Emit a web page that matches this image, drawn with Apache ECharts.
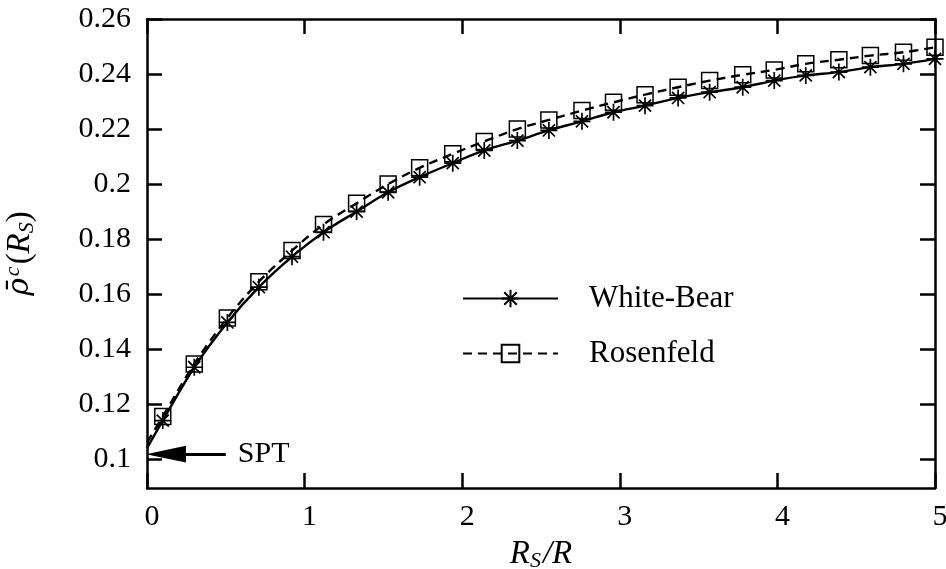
<!DOCTYPE html>
<html>
<head>
<meta charset="utf-8">
<script src="https://cdn.jsdelivr.net/npm/echarts@6/dist/echarts.min.js"></script>
<style>html,body{margin:0;padding:0;background:#fff;}#c{width:946px;height:569px;}</style>
</head>
<body>
<div id="c"></div>
<script>
// ---- data ----
const xValues = [0, 0.10, 0.30, 0.51, 0.71, 0.92, 1.12, 1.33, 1.53, 1.73, 1.94, 2.14, 2.35, 2.55, 2.76, 2.96, 3.16, 3.37, 3.57, 3.78, 3.98, 4.18, 4.39, 4.59, 4.80, 5.00];
const whiteBear = [0.104, 0.114, 0.1334, 0.1497, 0.1625, 0.1736, 0.1825, 0.1900, 0.1970, 0.2025, 0.2076, 0.2122, 0.2158, 0.2195, 0.2228, 0.2261, 0.2285, 0.2313, 0.2334, 0.2352, 0.2376, 0.2395, 0.2407, 0.2425, 0.2437, 0.2455];
const rosenfeld = [0.106, 0.1155, 0.1346, 0.1513, 0.1645, 0.1758, 0.1853, 0.1930, 0.2000, 0.2059, 0.2110, 0.2155, 0.2200, 0.2233, 0.2267, 0.2297, 0.2325, 0.2352, 0.2376, 0.2397, 0.2415, 0.2437, 0.2452, 0.2467, 0.2479, 0.2497];
const yTicks = [0.1, 0.12, 0.14, 0.16, 0.18, 0.2, 0.22, 0.24, 0.26];
const xTicks = [0, 1, 2, 3, 4, 5];
const seriesNames = ['White-Bear', 'Rosenfeld'];
const sptLevel = 0.1018;
const sptArrowFrom = 0.5;
const sptArrowTo = 0.12;

const FONT = 'Liberation Serif';
const asterisk = 'path://M0,-7L0,7M-7,0L7,0M-5,-5L5,5M-5,5L5,-5';
const square = 'path://M0,0L10,0L10,10L0,10Z';
const arrowHead = 'path://M0,0L8,38L-8,38Z';

function pairs(ys) {
  return xValues.map((x, i) => ({
    value: [x, ys[i]],
    symbol: i === 0 ? 'none' : undefined
  }));
}

const axisCommon = {
  axisLine: { show: true, onZero: false, lineStyle: { color: '#000', width: 2.5 } },
  axisTick: { show: true, inside: true, length: 15, lineStyle: { color: '#000', width: 2.5 } },
  splitLine: { show: false }
};

const chart = echarts.init(document.getElementById('c'), null, { renderer: 'canvas' });
chart.setOption({
  animation: false,
  backgroundColor: '#fff',
  grid: { left: 147, right: 11, top: 19, bottom: 81, containLabel: false, outerBoundsMode: 'none' },
  xAxis: [
    Object.assign({}, axisCommon, {
      type: 'value', min: 0, max: 5, interval: 1, position: 'bottom',
      axisLabel: { color: '#000', fontFamily: FONT, fontSize: 30, margin: 14,
        padding: [0, 0, 0, 10], customValues: xTicks },
      axisTick: Object.assign({}, axisCommon.axisTick, { customValues: xTicks }),
      name: '{i|R}{s|S}{i|/R}',
      nameLocation: 'middle', nameGap: 48,
      nameTextStyle: {
        rich: {
          i: { fontFamily: FONT, fontStyle: 'italic', fontSize: 33, color: '#000' },
          s: { fontFamily: FONT, fontStyle: 'italic', fontSize: 22, color: '#000', padding: [14, 2, 0, 0] }
        }
      }
    }),
    Object.assign({}, axisCommon, {
      type: 'value', min: 0, max: 5, interval: 1, position: 'top',
      axisLabel: { show: false }
    })
  ],
  yAxis: [
    Object.assign({}, axisCommon, {
      type: 'value', min: 0.0895, max: 0.26, position: 'left',
      axisLabel: { color: '#000', fontFamily: FONT, fontSize: 30, margin: 16,
        customValues: yTicks, formatter: v => String(+v.toFixed(2)) },
      axisTick: Object.assign({}, axisCommon.axisTick, { customValues: yTicks }),
      name: '{r|ρ̄}{sup|c}{n|(}{i|R}{s|S}{n|)}',
      nameLocation: 'middle', nameGap: 109, nameRotate: 90,
      nameTextStyle: {
        rich: {
          r: { fontFamily: 'DejaVu Serif', fontStyle: 'italic', fontSize: 30, color: '#000' },
          i: { fontFamily: FONT, fontStyle: 'italic', fontSize: 33, color: '#000' },
          n: { fontFamily: FONT, fontSize: 33, color: '#000' },
          sup: { fontFamily: FONT, fontStyle: 'italic', fontSize: 22, color: '#000', padding: [0, 2, 14, 2] },
          s: { fontFamily: FONT, fontStyle: 'italic', fontSize: 22, color: '#000', padding: [14, 0, 0, 0] }
        }
      }
    }),
    Object.assign({}, axisCommon, {
      type: 'value', min: 0.0895, max: 0.26, position: 'right',
      axisLabel: { show: false },
      axisTick: Object.assign({}, axisCommon.axisTick, { customValues: yTicks })
    })
  ],
  legend: {
    orient: 'vertical', left: 457, top: 278,
    itemWidth: 95, itemHeight: 22, itemGap: 24,
    textStyle: { fontFamily: FONT, fontSize: 31, color: '#000', padding: [0, 0, 0, 26] },
    data: seriesNames
  },
  series: [
    {
      name: seriesNames[0], type: 'line', data: pairs(whiteBear),
      smooth: 0.35,
      symbol: asterisk, symbolSize: 17,
      itemStyle: { color: 'transparent', borderColor: '#000', borderWidth: 1.7 },
      lineStyle: { color: '#000', width: 2.4, type: 'solid' },
      markLine: {
        silent: true, animation: false,
        symbol: ['none', arrowHead], symbolSize: 40, symbolKeepAspect: true,
        lineStyle: { color: '#000', width: 3, type: 'solid' },
        label: { show: true, position: 'start', formatter: 'SPT', fontFamily: FONT, fontSize: 30, color: '#000', distance: 12 },
        data: [[{ coord: [sptArrowFrom, sptLevel] }, { coord: [sptArrowTo, sptLevel] }]]
      }
    },
    {
      name: seriesNames[1], type: 'line', data: pairs(rosenfeld),
      smooth: 0.35,
      symbol: square, symbolSize: 16,
      itemStyle: { color: 'transparent', borderColor: '#000', borderWidth: 1.5 },
      lineStyle: { color: '#000', width: 2.4, type: [9, 6] }
    }
  ]
});
</script>
</body>
</html>
